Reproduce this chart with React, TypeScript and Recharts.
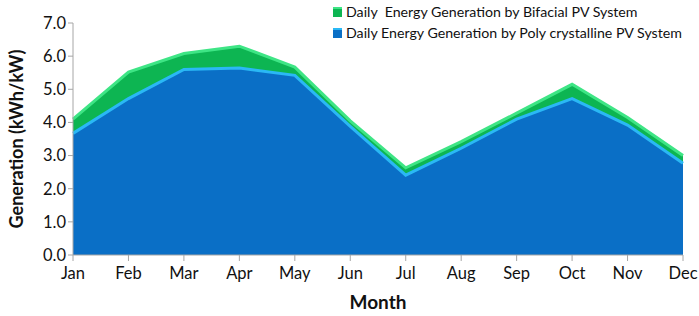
import React from 'react';
import { AreaChart, Area, XAxis, YAxis } from 'recharts';

const months = ['Jan', 'Feb', 'Mar', 'Apr', 'May', 'Jun', 'Jul', 'Aug', 'Sep', 'Oct', 'Nov', 'Dec'];
const bifacial = [4.1, 5.52, 6.08, 6.3, 5.67, 4.05, 2.63, 3.42, 4.28, 5.15, 4.15, 3.0];
const poly = [3.67, 4.72, 5.6, 5.64, 5.42, 3.88, 2.41, 3.22, 4.1, 4.72, 3.92, 2.77];
const yTicks = [0, 1, 2, 3, 4, 5, 6, 7];

const data = months.map((m, i) => ({ month: m, bifacial: bifacial[i], poly: poly[i] }));

const FONT = 'Lato, "Open Sans", sans-serif';

const legendItems = [
  { label: 'Daily  Energy Generation by Bifacial PV System', color: '#0db552', edge: '#3ee585' },
  { label: 'Daily Energy Generation by Poly crystalline PV System', color: '#0a6fc6', edge: '#2ab8f5' },
];

// legend drawn as an overlay so it doesn't push the plot area down
function ChartLegend() {
  return (
    <div style={{ position: 'absolute', left: 333, top: 1, fontFamily: FONT, fontSize: 14.2, color: '#111' }}>
      {legendItems.map((it) => (
        <div key={it.label} style={{ display: 'flex', alignItems: 'center', height: 21, whiteSpace: 'pre' }}>
          <span
            style={{
              display: 'inline-block',
              width: 9,
              height: 8,
              background: it.color,
              borderTop: `2px solid ${it.edge}`,
              marginRight: 4,
            }}
          />
          {it.label}
        </div>
      ))}
    </div>
  );
}

export default function App() {
  return (
    <div style={{ position: 'absolute', left: 0, top: 0, width: 699, height: 316, background: '#fff' }}>
      <AreaChart width={699} height={316} data={data} margin={{ top: 23, right: 16, bottom: 21, left: 29 }}>
        <XAxis
          dataKey="month"
          height={40}
          axisLine={{ stroke: '#a6a6a6' }}
          tickLine={{ stroke: '#a6a6a6' }}
          tickSize={6}
          tick={{ fill: '#111', fontSize: 16.5, fontFamily: FONT }}
          tickMargin={6}
          interval={0}
          label={{ value: 'Month', position: 'insideBottom', offset: -14, fill: '#111', fontSize: 19, fontWeight: 700, fontFamily: FONT }}
        />
        <YAxis
          width={44}
          domain={[0, 7]}
          ticks={yTicks}
          tickFormatter={(v: number) => v.toFixed(1)}
          axisLine={{ stroke: '#a6a6a6' }}
          tickLine={{ stroke: '#a6a6a6' }}
          tickSize={5}
          tickMargin={2}
          tick={{ fill: '#111', fontSize: 16.5, fontFamily: FONT }}
          label={{
            value: 'Generation (kWh/kW)',
            angle: -90,
            position: 'insideLeft',
            offset: -12,
            style: { textAnchor: 'middle' },
            fill: '#111',
            fontSize: 18,
            fontWeight: 700,
            fontFamily: FONT,
          }}
        />
        <Area
          type="linear"
          dataKey="bifacial"
          fill="#0db552"
          fillOpacity={1}
          stroke="#3ee585"
          strokeWidth={3}
          isAnimationActive={false}
        />
        <Area
          type="linear"
          dataKey="poly"
          fill="#0a6fc6"
          fillOpacity={1}
          stroke="#2ab8f5"
          strokeWidth={3}
          isAnimationActive={false}
        />
      </AreaChart>
      <ChartLegend />
    </div>
  );
}
